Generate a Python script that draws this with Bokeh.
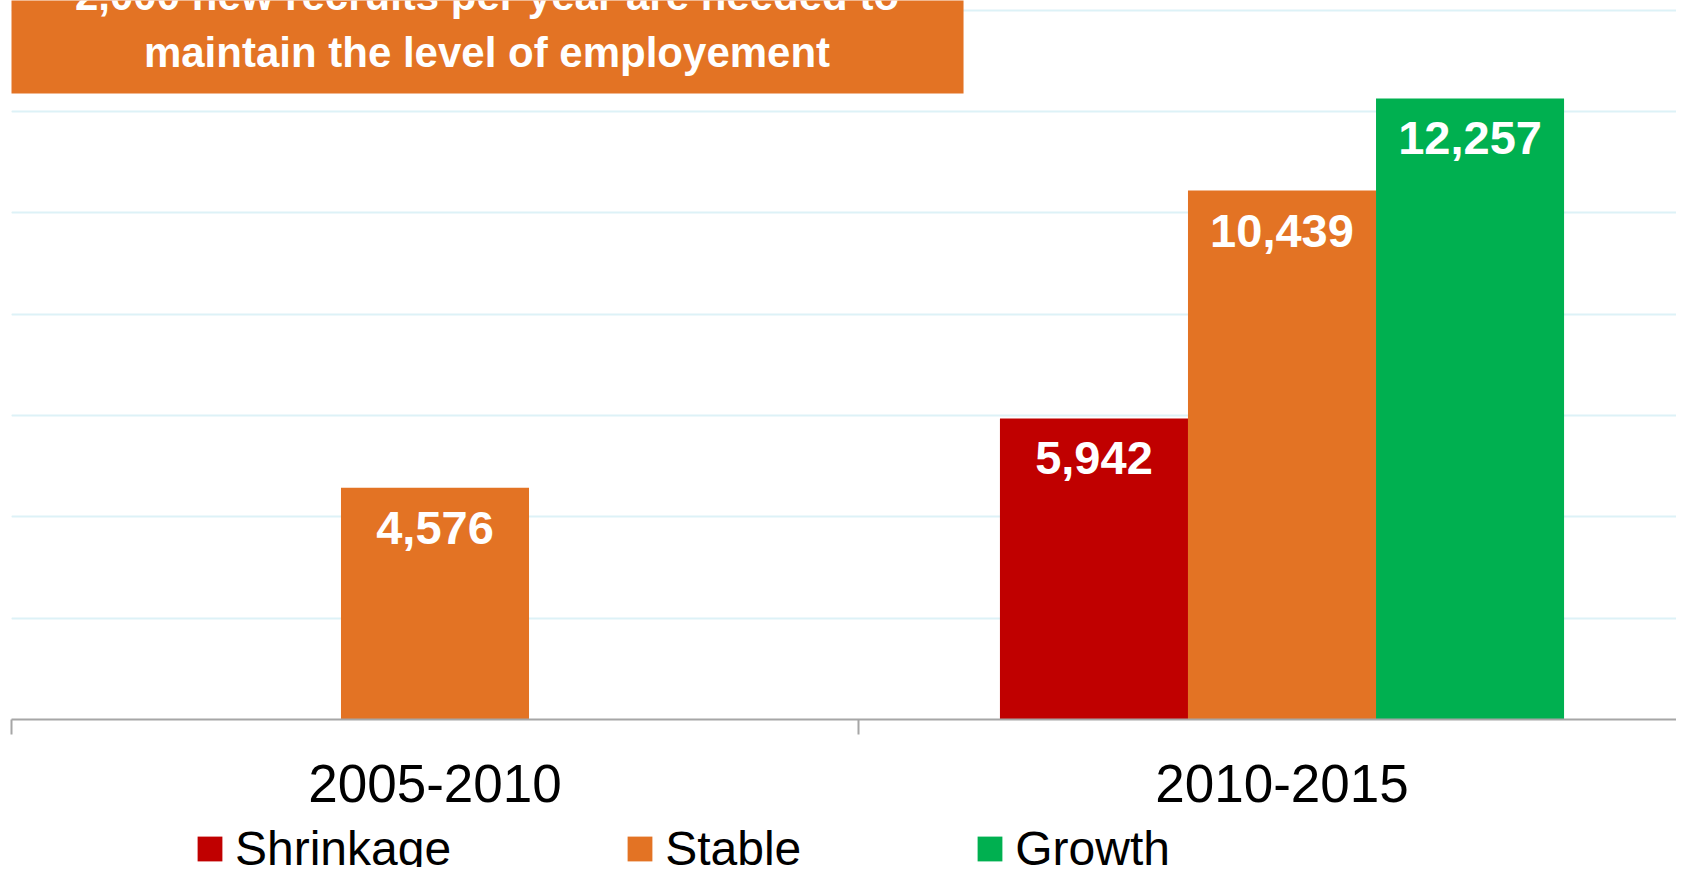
from bokeh.plotting import figure
from bokeh.layouts import column
from bokeh.models import (ColumnDataSource, Range1d, FixedTicker, Grid, Legend, LegendItem,
                          BoxAnnotation, Label)
from bokeh.core.properties import value
from bokeh.embed import file_html
from bokeh.resources import INLINE

# ---- data ----
categories = ["2005-2010", "2010-2015"]
series = ["Shrinkage", "Stable", "Growth"]
shrinkage = [None, 5942]
stable = [4576, 10439]
growth = [None, 12257]
colors = ["#C00000", "#E37324", "#00B050"]
box_lines = ["2,000 new recruits per year are needed to",
             "maintain the level of employement"]
grid_values = [0, 2000, 4000, 6000, 8000, 10000, 12000, 14000]

FONT = "Liberation Sans"
bar_w = 0.222
offsets = [-bar_w, 0.0, bar_w]
W = 1676

p = figure(width=W, height=829, output_backend="svg", toolbar_location=None,
           x_range=Range1d(0, (W - 11) / 847), y_range=Range1d(0, 14191),
           y_axis_location=None, min_border_left=11, min_border_right=0,
           min_border_top=0, min_border_bottom=110)
p.outline_line_color = None
p.xgrid.visible = False

p.add_layout(Grid(dimension=1, ticker=FixedTicker(ticks=grid_values),
                  grid_line_color="#DDF2F7", grid_line_width=2))

# x axis: labels at category centers, separator ticks at boundaries
ax = p.xaxis[0]
ax.ticker = FixedTicker(ticks=[i + 0.5 for i in range(len(categories))],
                        minor_ticks=list(range(len(categories) + 1)))
ax.major_label_overrides = {i + 0.5: c for i, c in enumerate(categories)}
ax.major_tick_out = 0
ax.major_tick_in = 0
ax.minor_tick_in = 0
ax.minor_tick_out = 15
ax.minor_tick_line_color = "#A6A6A6"
ax.minor_tick_line_width = 2
ax.axis_line_color = "#A6A6A6"
ax.axis_line_width = 2
ax.major_label_text_font = FONT
ax.major_label_text_font_size = "53px"
ax.major_label_text_color = "black"
ax.major_label_standoff = 30

for s, vals, col, off in zip(series, [shrinkage, stable, growth], colors, offsets):
    xs, ys, labs = [], [], []
    for i, v in enumerate(vals):
        if v is not None:
            xs.append(i + 0.5 + off)
            ys.append(v)
            labs.append(f"{v:,}")
    src = ColumnDataSource(dict(x=xs, top=ys, lab=labs))
    p.vbar(x="x", top="top", bottom=0, width=bar_w, source=src,
           fill_color=col, line_color=None)
    p.text(x="x", y="top", text="lab", source=src, text_align="center",
           text_baseline="middle", y_offset=40, text_color="white",
           text_font=value(FONT), text_font_style="bold", text_font_size="47px")

# orange call-out box
p.add_layout(BoxAnnotation(left=-0.0012, right=1.124, bottom=12356, top=20000,
                           fill_color="#E37324", fill_alpha=1, line_alpha=0))
for txt, yv in zip(box_lines, [14282, 13163]):
    p.add_layout(Label(x=0.5614, y=yv, text=txt, text_align="center",
                       text_baseline="middle", text_color="white",
                       text_font=FONT, text_font_style="bold", text_font_size="42px"))

# legend strip
lf = figure(width=W, height=38, output_backend="svg", toolbar_location=None,
            x_range=Range1d(0, 1), y_range=Range1d(0, 1),
            x_axis_location=None, y_axis_location=None,
            min_border_left=0, min_border_right=0, min_border_top=0, min_border_bottom=0)
lf.outline_line_color = None
lf.grid.visible = False
items = []
for s, col in zip(series, colors):
    # proxy renderer placed outside the visible range, only used for the legend swatch
    r = lf.vbar(x=[10], top=[1], width=0.1, fill_color=col, line_color=None)
    items.append(LegendItem(label=s, renderers=[r]))
legend = Legend(items=items, orientation="horizontal", location=(183, -9),
                glyph_width=31, glyph_height=31, label_standoff=10, spacing=173,
                label_text_font=FONT, label_text_font_size="48px",
                label_text_color="black", margin=0, padding=0,
                border_line_alpha=0, background_fill_alpha=0)
lf.add_layout(legend, "center")

layout = column(p, lf, spacing=0)
open("out.html", "w").write(file_html(layout, INLINE))
